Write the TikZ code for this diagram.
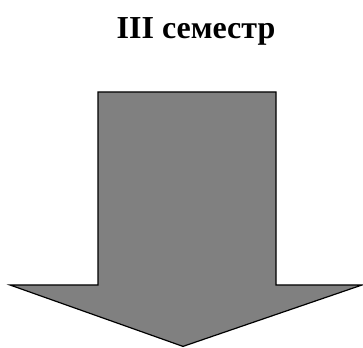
\documentclass[tikz,border=0pt]{standalone}
\usepackage{fontspec}
\setmainfont{Liberation Serif}
\begin{document}
\begin{tikzpicture}[x=1pt,y=1pt,
  arrowshape/.style={draw=black,fill=black!50,line width=1.2pt,line join=miter},
  titletext/.style={font=\bfseries\fontsize{32}{36}\selectfont,inner sep=0pt,anchor=base}]
\useasboundingbox (0,0) rectangle (363,347);
\node[titletext] (title) at (196,308) {III семестр};
\draw[arrowshape] (98,255) -- (276,255) -- (276,62) -- (362,62) -- (183,0.6) -- (10,62) -- (98,62) -- cycle;
\end{tikzpicture}
\end{document}
